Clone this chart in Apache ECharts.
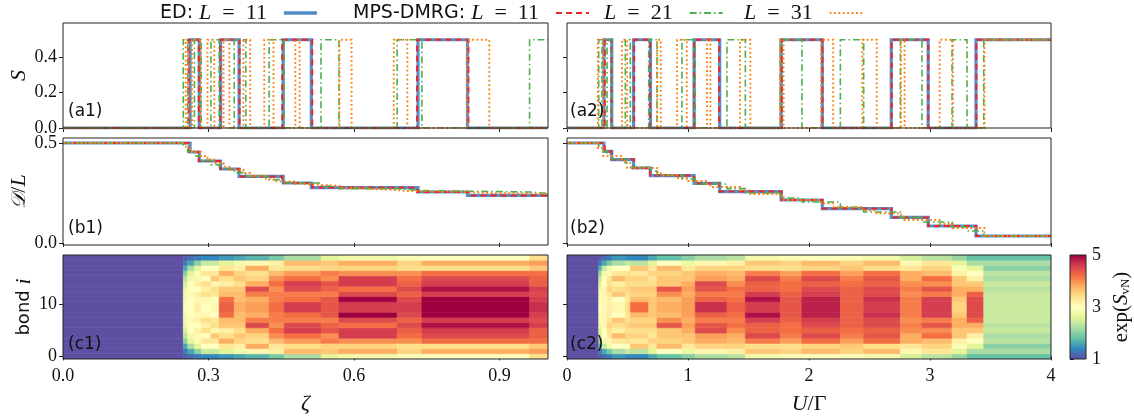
<!DOCTYPE html>
<html>
<head>
<meta charset="utf-8">
<script src="https://cdn.jsdelivr.net/npm/echarts@6/dist/echarts.min.js"></script>
<style>
  html, body { margin: 0; padding: 0; background: #fff; }
  #chart { width: 1134px; height: 417px; }
</style>
</head>
<body>
<div id="chart"></div>
<script>
// ---- data ----
// total spin S: points where S flips between 0 and sHigh (starts at 0)
const sHigh = 0.5;
const zetaMax = 1.0;
const uMax = 4.0;

const sZetaED   = [0.262, 0.281, 0.325, 0.363, 0.454, 0.512, 0.732, 0.834];
const sZetaMPS  = [0.259, 0.280, 0.324, 0.364, 0.452, 0.514, 0.730, 0.836];
const sZetaL21  = [0.248, 0.257, 0.271, 0.285, 0.305, 0.322, 0.353, 0.377, 0.425, 0.456,
                   0.532, 0.569, 0.689, 0.740, 0.962];
const sZetaL31  = [0.253, 0.258, 0.266, 0.284, 0.298, 0.312, 0.331, 0.343, 0.372, 0.386,
                   0.415, 0.434, 0.479, 0.488, 0.570, 0.595, 0.682, 0.710, 0.834, 0.879];

const sUED  = [0.305, 0.370, 0.550, 0.690, 1.050, 1.262, 1.770, 2.110, 2.680, 2.985, 3.380];
const sUMPS = [0.312, 0.368, 0.555, 0.685, 1.052, 1.258, 1.775, 2.110, 2.683, 2.985, 3.383];
const sUL21 = [0.262, 0.289, 0.331, 0.372, 0.482, 0.523, 0.675, 0.744, 0.950, 1.060,
               1.322, 1.474, 1.763, 1.942, 2.259, 2.452, 2.755, 2.934, 3.182, 3.306, 3.444];
const sUL31 = [0.255, 0.300, 0.455, 0.497, 0.745, 0.775, 0.910, 0.990, 1.157, 1.185,
               1.430, 1.515, 1.760, 1.790, 2.100, 2.200, 2.440, 2.560, 2.760, 2.790,
               3.080, 3.190, 3.450];

// D/L: starts at dStart, and after each transition above takes the next level
const dStart = 0.5;
const dZetaED  = [0.455, 0.410, 0.370, 0.333, 0.300, 0.277, 0.255, 0.238];
const dZetaMPS = [0.455, 0.410, 0.370, 0.333, 0.300, 0.277, 0.255, 0.238];
const dZetaL21 = [0.480, 0.457, 0.435, 0.413, 0.392, 0.372, 0.352, 0.334, 0.317, 0.300,
                  0.285, 0.272, 0.262, 0.255, 0.248];
const dZetaL31 = [0.485, 0.470, 0.455, 0.435, 0.418, 0.400, 0.382, 0.366, 0.350, 0.336,
                  0.322, 0.308, 0.296, 0.286, 0.275, 0.266, 0.260, 0.255, 0.250, 0.246];

const dUED  = [0.458, 0.417, 0.375, 0.337, 0.298, 0.257, 0.215, 0.172, 0.128, 0.085, 0.035];
const dUMPS = [0.458, 0.417, 0.375, 0.337, 0.298, 0.257, 0.215, 0.172, 0.128, 0.085, 0.035];
const dUL21 = [0.480, 0.460, 0.445, 0.420, 0.400, 0.380, 0.360, 0.340, 0.320, 0.295,
               0.272, 0.250, 0.225, 0.205, 0.178, 0.155, 0.128, 0.105, 0.080, 0.060, 0.036];
const dUL31 = [0.475, 0.435, 0.410, 0.375, 0.355, 0.340, 0.325, 0.310, 0.295, 0.280,
               0.263, 0.245, 0.232, 0.215, 0.198, 0.180, 0.163, 0.148, 0.132, 0.115,
               0.095, 0.075, 0.035];

// exp(S_vN) per bond, L = 21 (20 bonds). Column edges, and for each column the
// profile from the edge bond (0 / 19) to the central bond (9 / 10).
const nBonds = 20;
const c1Edges = [0, 0.248, 0.257, 0.271, 0.285, 0.305, 0.322, 0.353, 0.377, 0.425,
                 0.456, 0.532, 0.569, 0.689, 0.740, 0.962, 1.0];
const c1Profiles = [
  [1.0, 1.0, 1.0, 1.0, 1.0, 1.0, 1.0, 1.0, 1.0, 1.0],
  [1.1, 1.3, 1.6, 2.0, 2.3, 2.5, 2.7, 2.8, 2.8, 2.9],
  [1.2, 1.6, 2.2, 2.6, 2.8, 3.0, 3.0, 3.1, 3.0, 3.0],
  [1.3, 2.0, 2.6, 2.9, 3.1, 3.2, 3.0, 3.2, 3.1, 3.2],
  [1.4, 2.4, 3.0, 3.3, 3.0, 3.4, 3.2, 3.4, 3.1, 3.0],
  [1.4, 2.4, 3.0, 3.3, 3.6, 3.1, 3.4, 3.3, 3.0, 3.1],
  [1.5, 2.6, 3.3, 3.8, 3.4, 3.2, 3.6, 3.7, 4.2, 4.3],
  [1.6, 2.8, 3.2, 3.5, 3.6, 3.4, 3.6, 3.7, 3.7, 3.8],
  [1.7, 3.1, 3.8, 3.4, 3.5, 3.8, 4.5, 4.1, 3.8, 3.9],
  [1.9, 3.2, 3.3, 3.7, 4.0, 4.2, 4.0, 4.1, 4.1, 4.2],
  [2.2, 3.7, 3.4, 3.9, 4.2, 4.6, 4.5, 4.1, 4.2, 4.6],
  [2.6, 3.6, 3.5, 4.1, 4.0, 4.4, 4.3, 4.1, 4.4, 4.4],
  [2.8, 3.8, 3.5, 4.0, 4.6, 4.6, 4.2, 4.5, 5.0, 4.6],
  [2.9, 3.5, 3.4, 4.0, 4.2, 4.3, 4.5, 4.3, 4.5, 4.6],
  [3.0, 3.8, 3.4, 4.2, 4.5, 4.6, 4.9, 4.6, 5.0, 5.0],
  [3.4, 3.9, 3.6, 4.2, 4.3, 4.3, 4.6, 4.5, 4.6, 4.7]
];
const c2Edges = [0, 0.262, 0.289, 0.331, 0.372, 0.482, 0.523, 0.675, 0.744, 0.950, 1.060,
                 1.322, 1.474, 1.763, 1.942, 2.259, 2.452, 2.755, 2.934, 3.182, 3.306, 3.444, 4.0];
const c2Profiles = [
  [1.0, 1.0, 1.0, 1.0, 1.0, 1.0, 1.0, 1.0, 1.0, 1.0],
  [1.1, 1.3, 1.7, 2.1, 2.4, 2.6, 2.8, 2.9, 2.9, 3.0],
  [1.2, 1.6, 2.4, 2.8, 3.0, 3.0, 3.1, 3.1, 3.1, 3.1],
  [1.3, 1.9, 2.8, 3.1, 3.3, 3.4, 3.5, 3.3, 3.2, 3.2],
  [1.5, 2.2, 3.0, 3.3, 3.7, 3.2, 3.4, 3.6, 3.0, 3.1],
  [1.4, 2.4, 3.0, 3.4, 3.5, 3.4, 3.5, 3.4, 3.3, 3.4],
  [1.4, 2.3, 3.6, 3.3, 3.5, 3.4, 3.6, 3.5, 3.7, 4.2],
  [1.6, 2.6, 3.3, 3.5, 3.3, 3.4, 3.6, 3.5, 3.6, 3.6],
  [1.8, 3.0, 3.7, 3.5, 3.6, 3.6, 4.4, 4.0, 3.7, 3.8],
  [2.0, 2.7, 3.3, 3.6, 3.6, 3.8, 3.9, 3.8, 3.9, 3.9],
  [2.2, 3.1, 3.5, 3.8, 3.9, 4.5, 4.4, 4.1, 4.3, 4.7],
  [2.3, 3.2, 3.5, 3.7, 3.8, 4.0, 4.2, 4.1, 4.2, 4.3],
  [2.8, 3.6, 3.4, 4.1, 4.5, 4.3, 4.3, 4.6, 4.9, 4.6],
  [2.9, 3.5, 3.4, 3.9, 4.1, 4.2, 4.2, 4.3, 4.4, 4.4],
  [3.0, 3.7, 3.5, 4.2, 4.5, 4.3, 4.5, 4.6, 4.8, 4.8],
  [2.9, 3.5, 3.6, 3.9, 4.1, 4.2, 4.3, 4.3, 4.3, 4.3],
  [2.8, 3.7, 3.4, 4.2, 4.4, 4.3, 4.5, 4.5, 4.7, 4.6],
  [2.5, 3.1, 3.3, 3.8, 3.8, 4.0, 4.1, 4.0, 4.1, 4.1],
  [2.3, 3.3, 3.5, 3.7, 4.2, 4.0, 4.4, 4.1, 4.6, 4.6],
  [2.1, 2.6, 2.9, 3.2, 3.6, 3.6, 3.8, 3.8, 3.6, 3.5],
  [1.8, 2.2, 2.6, 3.0, 3.2, 3.6, 3.8, 4.3, 4.5, 4.5],
  [1.8, 2.2, 2.0, 2.3, 2.2, 2.4, 2.3, 2.4, 2.4, 2.4]
];
const cbarRange = [1, 5];

// tick labels
const zetaTicks = [0, 0.3, 0.6, 0.9];
const uTicks = [0, 1, 2, 3, 4];
const sTicks = [0, 0.2, 0.4];
const dTicks = [0, 0.5];
const bondTicks = [0, 10];
const cbarTicks = [1, 3, 5];

// ---- helpers ----
function spinSteps(trans, xmax) {
  const pts = [[0, 0]];
  let lev = 0;
  trans.forEach(t => { pts.push([t, lev]); lev = lev ? 0 : sHigh; pts.push([t, lev]); });
  pts.push([xmax, lev]);
  return pts;
}
function levelSteps(trans, levels, xmax) {
  const pts = [[0, dStart]];
  let lev = dStart;
  trans.forEach((t, k) => { pts.push([t, lev]); lev = levels[k]; pts.push([t, lev]); });
  pts.push([xmax, lev]);
  return pts;
}
function cells(edges, profiles) {
  const out = [];
  profiles.forEach((p, c) => {
    for (let i = 0; i < nBonds; i++) out.push([edges[c], edges[c + 1], i, p[Math.min(i, nBonds - 1 - i)]]);
  });
  return out;
}

const spectral = ['#5e4fa2', '#3288bd', '#66c2a5', '#abdda4', '#e6f598', '#ffffbf',
                  '#fee08b', '#fdae61', '#f46d43', '#d53e4f', '#9e0142'];

const NAMES = ['ED: L = 11', 'MPS-DMRG: L = 11', 'L = 21', 'L = 31'];
const STY = [
  {color: '#3b7dbf', width: 3.2, type: 'solid', opacity: 0.85},
  {color: '#e8262b', width: 2.0, type: [6, 4]},
  {color: '#4cae4c', width: 1.6, type: [7, 3, 1.5, 3]},
  {color: '#ff7f0e', width: 1.9, type: [1.8, 2.6]}
];

const serif = 'Liberation Serif';
const sans = 'DejaVu Sans';
const ink = '#111';

const L = 63, LW = 485, R = 567, RW = 484;
const grids = [
  {left: L, top: 23, width: LW, height: 105},
  {left: R, top: 23, width: RW, height: 105},
  {left: L, top: 138, width: LW, height: 107},
  {left: R, top: 138, width: RW, height: 107},
  {left: L, top: 255, width: LW, height: 104},
  {left: R, top: 255, width: RW, height: 104},
  {left: 1070, top: 255, width: 16, height: 104}
].map(g => Object.assign({show: true, borderColor: '#222', borderWidth: 1, z: 10,
                          backgroundColor: 'transparent'}, g));

const tick = {show: true, inside: false, length: 4, lineStyle: {color: '#222', width: 1}};
const labelStyle = {fontFamily: serif, fontSize: 18, color: ink};

function xAx(gi, max, ticks, withLabels, name) {
  const ax = {
    gridIndex: gi, type: 'value', min: 0, max: max,
    axisLine: {show: false}, splitLine: {show: false},
    axisTick: Object.assign({customValues: ticks}, tick),
    axisLabel: Object.assign({show: withLabels, customValues: ticks, margin: 8,
      formatter: v => max === 1 ? v.toFixed(1) : String(v)}, labelStyle)
  };
  if (name) {
    Object.assign(ax, {name: name, nameLocation: 'middle', nameGap: 34,
      nameTextStyle: {rich: {
        i: {fontFamily: serif, fontStyle: 'italic', fontSize: 22, color: ink},
        r: {fontFamily: serif, fontSize: 22, color: ink}}}});
  }
  return ax;
}
function yAx(gi, min, max, ticks, withLabels, fmt, name) {
  const ax = {
    gridIndex: gi, type: 'value', min: min, max: max,
    axisLine: {show: false}, splitLine: {show: false},
    axisTick: Object.assign({customValues: ticks}, tick),
    axisLabel: Object.assign({show: withLabels, customValues: ticks, margin: 6, formatter: fmt}, labelStyle)
  };
  if (name) {
    Object.assign(ax, {name: name, nameLocation: 'middle', nameRotate: 90, nameGap: 27,
      nameTextStyle: {rich: {
        i: {fontFamily: serif, fontStyle: 'italic', fontSize: 22, color: ink},
        r: {fontFamily: serif, fontSize: 22, color: ink},
        c: {fontFamily: sans, fontStyle: 'italic', fontSize: 20, color: ink},
        s: {fontFamily: sans, fontSize: 18, color: ink}}}});
  }
  return ax;
}

const f1 = v => v.toFixed(1);
const f0 = v => String(v);

const xAxis = [
  xAx(0, zetaMax, zetaTicks, false), xAx(1, uMax, uTicks, false),
  xAx(2, zetaMax, zetaTicks, false), xAx(3, uMax, uTicks, false),
  xAx(4, zetaMax, zetaTicks, true, '{i|ζ}'), xAx(5, uMax, uTicks, true, '{i|U}{r|/Γ}'),
  {gridIndex: 6, type: 'value', min: 0, max: 1, show: false}
];
const yAxis = [
  yAx(0, 0, 0.595, sTicks, true, f1, '{i|S}'), yAx(1, 0, 0.595, sTicks, false, f1),
  yAx(2, -0.01, 0.525, dTicks, true, f1, '{c|𝒟}{r|/}{i|L}'), yAx(3, -0.01, 0.525, dTicks, false, f1),
  yAx(4, -0.5, nBonds - 0.5, bondTicks, true, f0, '{s|bond }{i|i}'), yAx(5, -0.5, nBonds - 0.5, bondTicks, false, f0),
  {gridIndex: 6, type: 'value', min: cbarRange[0], max: cbarRange[1], position: 'right',
   axisLine: {show: false}, splitLine: {show: false},
   axisTick: Object.assign({customValues: cbarTicks}, tick),
   axisLabel: Object.assign({customValues: cbarTicks, margin: 6}, labelStyle),
   name: '{r|exp(}{i|S}{sub|vN}{r|)}', nameLocation: 'middle', nameRotate: 90, nameGap: 24,
   nameTextStyle: {rich: {
     r: {fontFamily: serif, fontSize: 21, color: ink},
     i: {fontFamily: serif, fontStyle: 'italic', fontSize: 21, color: ink},
     sub: {fontFamily: serif, fontSize: 13, color: ink, padding: [9, 0, 0, 0]}}}}
];

function line(k, gi, data) {
  const s = STY[k];
  return {
    name: NAMES[k], type: 'line', xAxisIndex: gi, yAxisIndex: gi, data: data,
    symbol: 'none', showSymbol: false, silent: true, clip: true,
    lineStyle: {color: s.color, width: s.width, type: s.type, opacity: s.opacity || 1, join: 'miter'},
    itemStyle: {color: s.color}
  };
}

const series = [];
[[sZetaED], [sZetaMPS], [sZetaL21], [sZetaL31]].forEach((t, k) => series.push(line(k, 0, spinSteps(t[0], zetaMax))));
[[sUED], [sUMPS], [sUL21], [sUL31]].forEach((t, k) => series.push(line(k, 1, spinSteps(t[0], uMax))));
[[sZetaED, dZetaED], [sZetaMPS, dZetaMPS], [sZetaL21, dZetaL21], [sZetaL31, dZetaL31]]
  .forEach((t, k) => series.push(line(k, 2, levelSteps(t[0], t[1], zetaMax))));
[[sUED, dUED], [sUMPS, dUMPS], [sUL21, dUL21], [sUL31, dUL31]]
  .forEach((t, k) => series.push(line(k, 3, levelSteps(t[0], t[1], uMax))));

function renderCell(params, api) {
  const p0 = api.coord([api.value(0), api.value(2) + 0.5]);
  const p1 = api.coord([api.value(1), api.value(2) - 0.5]);
  const color = api.visual('color');
  return {type: 'rect', shape: {x: p0[0], y: p0[1], width: p1[0] - p0[0], height: p1[1] - p0[1]},
          style: {fill: color, stroke: color, lineWidth: 0.6}};
}
const heatIdx = [series.length, series.length + 1];
series.push({type: 'custom', xAxisIndex: 4, yAxisIndex: 4, data: cells(c1Edges, c1Profiles),
             encode: {x: [0, 1], y: 2}, renderItem: renderCell, silent: true, clip: true});
series.push({type: 'custom', xAxisIndex: 5, yAxisIndex: 5, data: cells(c2Edges, c2Profiles),
             encode: {x: [0, 1], y: 2}, renderItem: renderCell, silent: true, clip: true});
series.push({type: 'custom', xAxisIndex: 6, yAxisIndex: 6, data: [[0.5, cbarRange[0], cbarRange[1]]],
             encode: {x: 0, y: [1, 2]}, silent: true,
             renderItem: (params, api) => {
               const p0 = api.coord([0, api.value(2)]);
               const p1 = api.coord([1, api.value(1)]);
               return {type: 'rect', shape: {x: p0[0], y: p0[1], width: p1[0] - p0[0], height: p1[1] - p0[1]},
                 style: {fill: new echarts.graphic.LinearGradient(0, 1, 0, 0,
                   spectral.map((c, i) => ({offset: i / (spectral.length - 1), color: c})))}};
             }});

const legendRich = {
  s: {fontFamily: sans, fontSize: 19, color: ink},
  i: {fontFamily: serif, fontStyle: 'italic', fontSize: 22, color: ink},
  r: {fontFamily: serif, fontSize: 22, color: ink, padding: [0, 12, 0, 0]}
};
const legendFmt = {
  'ED: L = 11': '{s|ED: }{i|L}{r|  =  11}',
  'MPS-DMRG: L = 11': '{s|MPS-DMRG: }{i|L}{r|  =  11}',
  'L = 21': '{i|L}{r|  =  21}',
  'L = 31': '{i|L}{r|  =  31}'
};
const legendLeft = [160, 353, 604, 744];
const legendLine = [{width: 3.6, opacity: 0.9}, {}, {}, {}];
const legend = NAMES.map((n, k) => ({
  data: [n], left: legendLeft[k], top: 2, align: 'right', orient: 'horizontal',
  itemWidth: 33, itemHeight: 16, selectedMode: false, padding: 0,
  itemStyle: {opacity: 0}, lineStyle: legendLine[k],
  formatter: name => legendFmt[name], textStyle: {rich: legendRich}
}));

const panelLabels = [
  ['(a1)', L + 5, 114], ['(a2)', R + 3, 114],
  ['(b1)', L + 5, 231], ['(b2)', R + 3, 231],
  ['(c1)', L + 5, 347], ['(c2)', R + 3, 347]
];
const graphic = panelLabels.map(p => ({
  type: 'text', left: p[1], top: p[2] - 11, z: 100,
  style: {text: p[0], font: '17px "DejaVu Sans"', fill: ink}
}));

const chart = echarts.init(document.getElementById('chart'), null, {renderer: 'canvas'});
chart.setOption({
  animation: false,
  backgroundColor: '#fff',
  grid: grids,
  xAxis: xAxis,
  yAxis: yAxis,
  legend: legend,
  visualMap: {type: 'continuous', show: false, min: cbarRange[0], max: cbarRange[1],
              dimension: 3, seriesIndex: heatIdx, inRange: {color: spectral}},
  graphic: graphic,
  series: series
});
</script>
</body>
</html>
